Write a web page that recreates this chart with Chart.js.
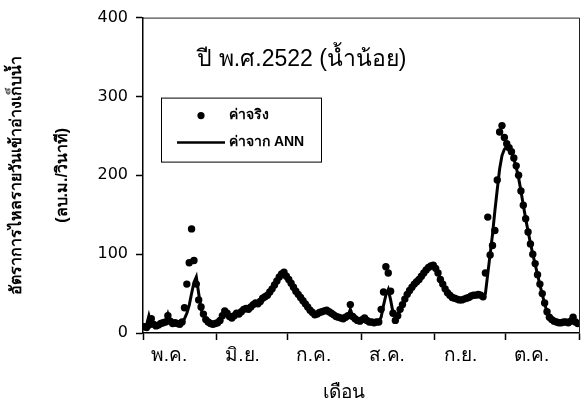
<!DOCTYPE html>
<html lang="th">
<head>
<meta charset="UTF-8">
<title>อัตราการไหลรายวันเข้าอ่างเก็บน้ำ ปี พ.ศ.2522</title>
<script src="https://cdn.jsdelivr.net/npm/chart.js@4.4.1/dist/chart.umd.min.js"></script>
<style>
  body { margin: 0; background: #fff; }
  #wrap { position: relative; width: 584px; height: 405px; }
</style>
</head>
<body>
<div id="wrap"><canvas id="flowChart"></canvas></div>
<script>
// ช่วงเดือน พ.ค. - ต.ค. ค่ารายวัน (ลบ.ม./วินาที)
const monthLabels = ['พ.ค.', 'มิ.ย.', 'ก.ค.', 'ส.ค.', 'ก.ย.', 'ต.ค.'];
const monthDays = [31, 30, 31, 31, 30, 31];
const yTicks = [0, 100, 200, 300, 400];

// ค่าจริง (observed)
const obsMay = [8, 7, 10, 18, 11, 9, 10, 12, 13, 14,
  22, 15, 12, 13, 12, 11, 14, 32, 62, 89,
  132, 92, 62, 42, 33, 24, 17, 14, 12, 11, 12];
const obsJun = [13, 16, 22, 28, 25, 21, 19, 22, 25, 24,
  27, 30, 31, 30, 33, 36, 38, 37, 40, 44,
  46, 48, 52, 56, 61, 66, 71, 75, 77, 72];
const obsJul = [68, 63, 58, 53, 49, 45, 41, 37, 33, 29,
  26, 23, 24, 26, 27, 28, 29, 27, 25, 23,
  21, 20, 19, 18, 20, 22, 36, 21, 18, 16, 15];
const obsAug = [17, 19, 16, 14, 14, 13, 14, 14, 30, 52,
  84, 76, 53, 25, 16, 22, 30, 36, 43, 49,
  54, 58, 62, 65, 68, 72, 76, 80, 83, 85, 86];
const obsSep = [82, 76, 68, 62, 56, 51, 48, 45, 44, 43,
  42, 42, 43, 44, 45, 47, 48, 48, 49, 48,
  46, 76, 147, 99, 111, 130, 194, 255, 263, 248];
const obsOct = [240, 235, 230, 222, 212, 200, 180, 162, 145, 128,
  113, 100, 88, 74, 62, 50, 38, 27, 20, 17,
  15, 14, 13, 13, 14, 14, 13, 15, 20, 14, 12];

// ค่าจาก ANN (model)
const annMay = [8, 10, 22, 11, 9, 10, 12, 12, 14, 15,
  24, 14, 13, 13, 12, 12, 14, 18, 25, 35,
  50, 64, 71, 50, 30, 22, 18, 15, 14, 13, 12];
const annJun = [12, 15, 21, 27, 26, 22, 20, 21, 24, 25,
  26, 29, 31, 31, 33, 35, 37, 38, 40, 43,
  46, 49, 52, 56, 60, 65, 70, 74, 76, 73];
const annJul = [69, 64, 59, 54, 50, 46, 42, 38, 34, 30,
  27, 24, 24, 25, 27, 28, 28, 27, 25, 23,
  22, 20, 19, 19, 20, 22, 30, 22, 18, 16, 15];
const annAug = [16, 18, 17, 15, 14, 14, 14, 15, 20, 35,
  48, 55, 42, 26, 20, 23, 29, 35, 42, 48,
  53, 57, 61, 65, 68, 71, 75, 79, 82, 84, 85];
const annSep = [83, 77, 69, 62, 56, 51, 48, 46, 44, 43,
  42, 42, 43, 44, 45, 46, 47, 48, 48, 47,
  46, 50, 75, 100, 125, 155, 182, 208, 225, 233];
const annOct = [236, 235, 230, 221, 210, 197, 180, 162, 145, 129,
  114, 100, 87, 74, 61, 49, 37, 27, 20, 16,
  14, 14, 13, 13, 13, 14, 13, 15, 18, 14, 12];

const observed = [obsMay, obsJun, obsJul, obsAug, obsSep, obsOct].flat();
const annFlow = [annMay, annJun, annJul, annAug, annSep, annOct].flat();

// day index of each month boundary: 0, 31, 61, ...
const monthStarts = [0];
monthDays.forEach(d => monthStarts.push(monthStarts[monthStarts.length - 1] + d));
const totalDays = monthStarts[monthStarts.length - 1];
const labelAt = monthStarts.slice(0, -1).map(s => s + 11);

const toPoints = arr => arr.map((v, i) => ({ x: i + 0.5, y: v }));

const FONT = "'Liberation Sans', Arial, sans-serif";

// frame, title, legend and x-axis title
const decorations = {
  id: 'decorations',
  afterDraw(chart) {
    const { ctx, chartArea: ca } = chart;
    ctx.save();
    ctx.strokeStyle = '#222';
    ctx.lineWidth = 1;
    ctx.beginPath();
    ctx.moveTo(ca.left, ca.top + 0.5);
    ctx.lineTo(ca.right + 0.5, ca.top + 0.5);
    ctx.lineTo(ca.right + 0.5, ca.bottom);
    ctx.stroke();

    ctx.fillStyle = '#000';
    ctx.textBaseline = 'middle';
    ctx.textAlign = 'center';
    ctx.font = '23px ' + FONT;
    ctx.fillText('ปี พ.ศ.2522 (น้ำน้อย)', ca.left + 159, ca.top + 42);

    ctx.font = '19px ' + FONT;
    ctx.fillText('เดือน', 344, 393);

    // legend box
    const lx = ca.left + 18, ly = ca.top + 80;
    ctx.lineWidth = 1;
    ctx.strokeStyle = '#000';
    ctx.strokeRect(lx + 0.5, ly + 0.5, 160, 64);
    ctx.beginPath();
    ctx.arc(lx + 40, ly + 18, 3.6, 0, Math.PI * 2);
    ctx.fill();
    ctx.lineWidth = 2.5;
    ctx.beginPath();
    ctx.moveTo(lx + 16, ly + 45);
    ctx.lineTo(lx + 64, ly + 45);
    ctx.stroke();
    ctx.textAlign = 'left';
    ctx.font = 'bold 14px ' + FONT;
    ctx.fillText('ค่าจริง', lx + 68, ly + 18);
    ctx.fillText('ค่าจาก ANN', lx + 68, ly + 45);
    ctx.restore();
  }
};

new Chart(document.getElementById('flowChart'), {
  type: 'scatter',
  data: {
    datasets: [
      {
        label: 'ค่าจริง',
        data: toPoints(observed),
        showLine: false,
        pointRadius: 3.7,
        pointBackgroundColor: '#000',
        pointBorderWidth: 0
      },
      {
        label: 'ค่าจาก ANN',
        data: toPoints(annFlow),
        showLine: true,
        borderColor: '#000',
        borderWidth: 3,
        pointRadius: 0,
        tension: 0
      }
    ]
  },
  options: {
    responsive: true,
    maintainAspectRatio: false,
    animation: false,
    layout: { padding: { top: 17, right: 5, left: 0, bottom: 0 } },
    plugins: {
      legend: { display: false },
      tooltip: { enabled: false }
    },
    scales: {
      x: {
        type: 'linear',
        min: 0,
        max: totalDays,
        afterBuildTicks: scale => {
          scale.ticks = monthStarts.concat(labelAt)
            .sort((a, b) => a - b)
            .map(v => ({ value: v }));
        },
        afterFit: scale => { scale.height = 72; },
        border: { color: '#000', width: 1.5 },
        grid: {
          drawOnChartArea: false,
          tickLength: 7,
          tickWidth: 1.5,
          tickColor: ctx => (ctx.tick && monthStarts.includes(ctx.tick.value)) ? '#000' : 'rgba(0,0,0,0)'
        },
        ticks: {
          autoSkip: false,
          maxRotation: 0,
          padding: 4,
          color: '#000',
          font: { family: FONT, size: 19 },
          callback: value => {
            const i = labelAt.indexOf(value);
            return i >= 0 ? monthLabels[i] : '';
          }
        }
      },
      y: {
        min: 0,
        max: 400,
        afterBuildTicks: scale => { scale.ticks = yTicks.map(v => ({ value: v })); },
        afterFit: scale => { scale.width = 143; },
        border: { color: '#000', width: 1.5 },
        grid: { drawOnChartArea: false, tickLength: 7, tickWidth: 1.5, tickColor: '#000' },
        ticks: {
          padding: 8,
          color: '#000',
          font: { family: "'DejaVu Sans', " + FONT, size: 16 }
        },
        title: {
          display: true,
          text: ['อัตราการไหลรายวันเข้าอ่างเก็บน้ำ', '(ลบ.ม./วินาที)'],
          color: '#000',
          font: { family: FONT, size: 16, weight: 'bold', lineHeight: '46px' },
          padding: { top: -6, bottom: 0 }
        }
      }
    }
  },
  plugins: [decorations]
});
</script>
</body>
</html>
